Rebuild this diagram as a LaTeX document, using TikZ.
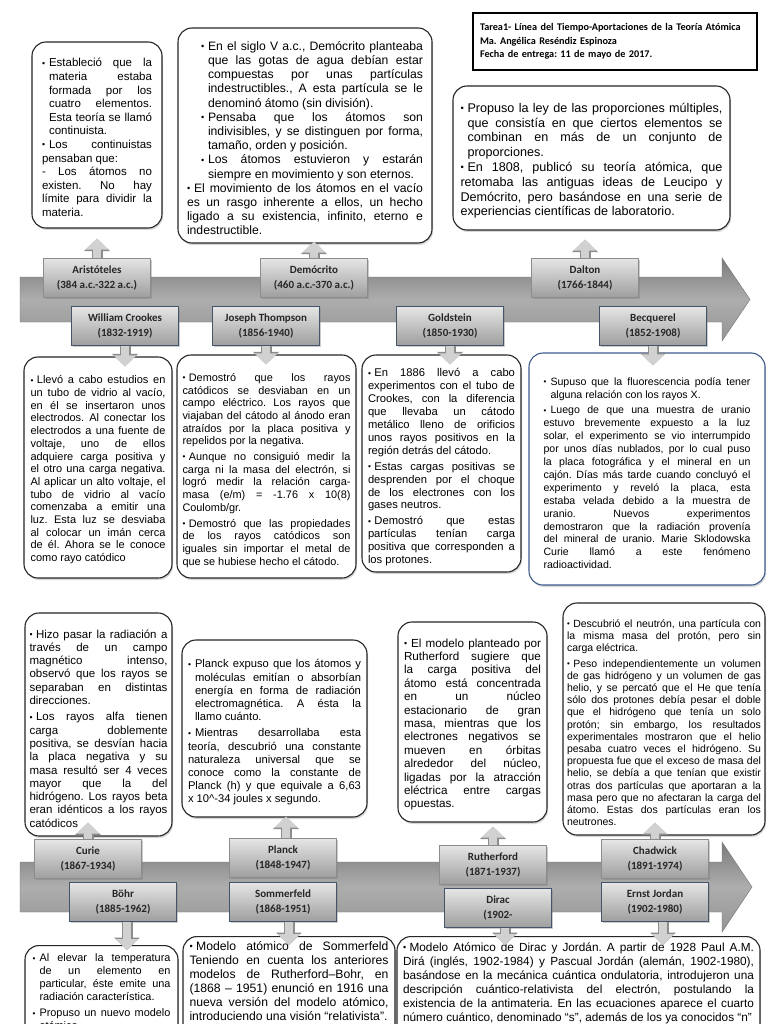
\documentclass[tikz,border=0pt]{standalone}
\usepackage{fontspec}
\setmainfont{Liberation Sans}
\newfontfamily\labfont{Carlito}
\usetikzlibrary{arrows.meta}
\usetikzlibrary{shadows}
\setlength{\parindent}{0pt}
\frenchspacing
\tolerance=10000 \hbadness=10000 \vbadness=10000 \hyphenpenalty=10000
\colorlet{boxline}{black!85}
\definecolor{navyline}{RGB}{68,84,106}
\definecolor{bluebox}{RGB}{62,92,140}
\newcommand{\bul}{\raisebox{0.12ex}{\scalebox{0.75}{\textbullet}}}
\newcommand{\hb}{\par\noindent\hangindent=7pt\hangafter=1\makebox[7pt][l]{\bul}}
\newcommand{\nb}{\par\noindent\bul\hspace{3.5pt}}
\newcommand{\jl}{\linebreak}
\tikzstyle{infobox}=[draw=boxline,line width=1.1pt,rounded corners=14pt,fill=white,inner sep=0pt,drop shadow={opacity=0.3,shadow xshift=1pt,shadow yshift=-2pt}]
\tikzstyle{info}=[infobox,align=justify]
\tikzstyle{head}=[draw=black,line width=1.8pt,fill=white,minimum width=284pt,minimum height=57pt,text width=270pt,inner sep=0pt,align=left,font=\labfont\bfseries\fontsize{10.2}{13.5}\selectfont]
\tikzstyle{lab}=[draw=black!45,top color=black!10,bottom color=black!38,minimum width=107pt,minimum height=39pt,inner sep=0pt,align=center,text=black!85,font=\labfont\bfseries\fontsize{11}{15}\selectfont,drop shadow={opacity=0.4,shadow xshift=1.5pt,shadow yshift=-1.5pt}]
\tikzstyle{labl}=[lab,draw=navyline,line width=1pt]
\tikzstyle{band}=[draw=black!55,top color=black!52,bottom color=black!42,middle color=black!32]
\tikzstyle{blk}=[preaction={draw=black!45,line width=11pt,-{Triangle[width=25pt,length=12.5pt]}},draw=black!18,line width=8.5pt,-{Triangle[width=22pt,length=11pt]}]

\begin{document}
\begin{tikzpicture}[x=1pt,y=-1pt]
  \useasboundingbox (0,0) rectangle (768,1024);
  \fill[white] (0,0) rectangle (768,1024);
  \clip (0,0) rectangle (768,1024);

  % header
  \node[head] (hdr) at (615,41.5) {Tarea1- Línea del Tiempo-Aportaciones de la Teoría Atómica\\Ma. Angélica Reséndiz Espinoza\\Fecha de entrega: 11 de mayo de 2017.};

  % upper boxes of the first line
  \node[info,minimum width=130pt,minimum height=186pt,text width=110pt,font=\fontsize{11.5}{13.6}\selectfont] (arib) at (97,135)
    {\hb Estableció que la\jl materia estaba\jl formada por los\jl cuatro elementos.\jl Esta teoría se llamó\jl continuista.\hb Los continuistas\jl pensaban que:\\- Los átomos no\jl existen. No hay\jl límite para dividir la\jl materia.};
  \node[info,minimum width=254pt,minimum height=215pt,text width=236pt,font=\fontsize{12.2}{14.2}\selectfont] (demb) at (305,135.5)
    {\leftskip=14pt\hb En el siglo V a.c., Demócrito planteaba\jl que las gotas de agua debían estar\jl compuestas por unas partículas\jl indestructibles., A esta partícula se le\jl denominó átomo (sin división).\hb Pensaba que los átomos son\jl indivisibles, y se distinguen por forma,\jl tamaño, orden y posición.\hb Los átomos estuvieron y estarán\jl siempre en movimiento y son eternos.\par\leftskip=0pt\hb El movimiento de los átomos en el vacío\jl es un rasgo inherente a ellos, un hecho\jl ligado a su existencia, infinito, eterno e\jl indestructible.};
  \node[info,minimum width=277pt,minimum height=144pt,text width=262pt,font=\fontsize{12.6}{14.8}\selectfont] (dalb) at (591.5,158)
    {\hb Propuso la ley de las proporciones múltiples,\jl que consistía en que ciertos elementos se\jl combinan en más de un conjunto de\jl proporciones.\hb En 1808, publicó su teoría atómica, que\jl retomaba las antiguas ideas de Leucipo y\jl Demócrito, pero basándose en una serie de\jl experiencias científicas de laboratorio.};

  % lower boxes of the first line
  \node[info,minimum width=148pt,minimum height=221pt,text width=135pt,font=\fontsize{11}{12.7}\selectfont] (crob) at (98,467.5)
    {\nb Llevó a cabo estudios en\jl un tubo de vidrio al vacío,\jl en él se insertaron unos\jl electrodos. Al conectar los\jl electrodos a una fuente de\jl voltaje, uno de ellos\jl adquiere carga positiva y\jl el otro una carga negativa.\jl Al aplicar un alto voltaje, el\jl tubo de vidrio al vacío\jl comenzaba a emitir una\jl luz. Esta luz se desviaba\jl al colocar un imán cerca\jl de él. Ahora se le conoce\jl como rayo catódico};
  \node[info,minimum width=179pt,minimum height=223pt,text width=168pt,font=\fontsize{10.9}{12.7}\selectfont\setlength{\parskip}{3pt}] (thob) at (266.5,466.5)
    {\nb Demostró que los rayos\jl catódicos se desviaban en un\jl campo eléctrico. Los rayos que\jl viajaban del cátodo al ánodo eran\jl atraídos por la placa positiva y\jl repelidos por la negativa.\nb Aunque no consiguió medir la\jl carga ni la masa del electrón, si\jl logró medir la relación carga-\jl masa (e/m) = -1.76 x 10(8)\jl Coulomb/gr.\nb Demostró que las propiedades\jl de los rayos catódicos son\jl iguales sin importar el metal de\jl que se hubiese hecho el cátodo.};
  \node[info,minimum width=159pt,minimum height=217pt,text width=147pt,font=\fontsize{11.2}{12.9}\selectfont\setlength{\parskip}{3pt}] (golb) at (441.5,463.5)
    {\nb En 1886 llevó a cabo\jl experimentos con el tubo de\jl Crookes, con la diferencia\jl que llevaba un cátodo\jl metálico lleno de orificios\jl unos rayos positivos en la\jl región detrás del cátodo.\nb Estas cargas positivas se\jl desprenden por el choque\jl de los electrones con los\jl gases neutros.\nb Demostró que estas\jl partículas tenían carga\jl positiva que corresponden a\jl los protones.};
  \node[info,draw=bluebox,minimum width=236pt,minimum height=232pt,text width=207pt,font=\fontsize{10.6}{12.9}\selectfont\setlength{\parskip}{3pt}] (becb) at (647,469)
    {\hb Supuso que la fluorescencia podía tener\jl alguna relación con los rayos X.\hb Luego de que una muestra de uranio\jl estuvo brevemente expuesto a la luz\jl solar, el experimento se vio interrumpido\jl por unos días nublados, por lo cual puso\jl la placa fotográfica y el mineral en un\jl cajón. Días más tarde cuando concluyó el\jl experimento y reveló la placa, esta\jl estaba velada debido a la muestra de\jl uranio. Nuevos experimentos\jl demostraron que la radiación provenía\jl del mineral de uranio. Marie Sklodowska\jl Curie llamó a este fenómeno\jl radioactividad.};

  % upper boxes of the second line
  \node[info,minimum width=147pt,minimum height=223pt,text width=138pt,font=\fontsize{11.5}{13.3}\selectfont\setlength{\parskip}{3pt}] (curb) at (98.5,724.5)
    {\nb Hizo pasar la radiación a\jl través de un campo\jl magnético intenso,\jl observó que los rayos se\jl separaban en distintas\jl direcciones.\nb Los rayos alfa tienen\jl carga doblemente\jl positiva, se desvían hacia\jl la placa negativa y su\jl masa resultó ser 4 veces\jl mayor que la del\jl hidrógeno. Los rayos beta\jl eran idénticos a los rayos\jl catódicos};
  \node[info,minimum width=185pt,minimum height=177pt,text width=173pt,font=\fontsize{11.2}{13.2}\selectfont\setlength{\parskip}{3pt}] (plab) at (274.5,728.5)
    {\hb Planck expuso que los átomos y\jl moléculas emitían o absorbían\jl energía en forma de radiación\jl electromagnética. A ésta la\jl llamo cuánto.\hb Mientras desarrollaba esta\jl teoría, descubrió una constante\jl naturaleza universal que se\jl conoce como la constante de\jl Planck (h) y que equivale a 6,63\jl x 10\textasciicircum-34 joules x segundo.};
  \node[info,minimum width=149pt,minimum height=200pt,text width=137pt,font=\fontsize{11.7}{13.4}\selectfont] (rutb) at (472.5,722)
    {\hb El modelo planteado por\jl Rutherford sugiere que\jl la carga positiva del\jl átomo está concentrada\jl en un núcleo\jl estacionario de gran\jl masa, mientras que los\jl electrones negativos se\jl mueven en órbitas\jl alrededor del núcleo,\jl ligadas por la atracción\jl eléctrica entre cargas\jl opuestas.};
  \node[info,minimum width=202pt,minimum height=232pt,text width=194pt,font=\fontsize{10.5}{12.2}\selectfont\setlength{\parskip}{3pt}] (chab) at (664,719)
    {\nb Descubrió el neutrón, una partícula con\jl la misma masa del protón, pero sin\jl carga eléctrica.\nb Peso independientemente un volumen\jl de gas hidrógeno y un volumen de gas\jl helio, y se percató que el He que tenía\jl sólo dos protones debía pesar el doble\jl que el hidrógeno que tenía un solo\jl protón; sin embargo, los resultados\jl experimentales mostraron que el helio\jl pesaba cuatro veces el hidrógeno. Su\jl propuesta fue que el exceso de masa del\jl helio, se debía a que tenían que existir\jl otras dos partículas que aportaran a la\jl masa pero que no afectaran la carga del\jl átomo. Estas dos partículas eran los\jl neutrones.};

  % lower boxes of the second line (cut by the page)
  \node[infobox,anchor=north,minimum width=153pt,inner ysep=8.5pt] (bohb) at (101.5,945)
    {\parbox[t][130pt][t]{138pt}{\fontsize{10.9}{13}\selectfont\setlength{\parskip}{3pt}\hb Al elevar la temperatura\jl de un elemento en\jl particular, éste emite una\jl radiación característica.\hb Propuso un nuevo modelo\jl atómico}};
  \node[infobox,anchor=north,minimum width=212pt,inner ysep=5pt] (somb) at (289,936)
    {\parbox[t][130pt][t]{199pt}{\fontsize{12.2}{14}\selectfont\nb Modelo atómico de Sommerfeld\jl Teniendo en cuenta los anteriores\jl modelos de Rutherford–Bohr, en\jl (1868 – 1951) enunció en 1916 una\jl nueva versión del modelo atómico,\jl introduciendo una visión “relativista”.}};
  \node[infobox,anchor=north,minimum width=363pt,inner ysep=6pt] (dirb) at (578.5,936)
    {\parbox[t][130pt][t]{351pt}{\fontsize{11.8}{14}\selectfont\nb Modelo Atómico de Dirac y Jordán. A partir de 1928 Paul A.M.\jl Dirá (inglés, 1902-1984) y Pascual Jordán (alemán, 1902-1980),\jl basándose en la mecánica cuántica ondulatoria, introdujeron una\jl descripción cuántico-relativista del electrón, postulando la\jl existencia de la antimateria. En las ecuaciones aparece el cuarto\jl número cuántico, denominado “s”, además de los ya conocidos “n”}};

  % the two time bands
  \draw[band] (20,277) -- (722,277) -- (722,258) -- (750,299.5) -- (722,341) -- (722,322) -- (20,322) -- cycle;
  \draw[band] (20,862) -- (722,862) -- (722,842) -- (752,887) -- (722,932) -- (722,912) -- (20,912) -- cycle;

  % names and dates
  \node[lab] (ari) at (97,277.5) {Aristóteles\\(384 a.c.-322 a.c.)};
  \node[lab] (dem) at (314,278) {Demócrito\\(460 a.c.-370 a.c.)};
  \node[lab] (dal) at (585,278) {Dalton\\(1766-1844)};
  \node[labl] (cro) at (125,326) {William Crookes\\(1832-1919)};
  \node[labl] (tho) at (266,326) {Joseph Thompson\\(1856-1940)};
  \node[labl] (gol) at (450,326) {Goldstein\\(1850-1930)};
  \node[labl] (bec) at (653,326) {Becquerel\\(1852-1908)};
  \node[lab] (cur) at (88,859) {Curie\\(1867-1934)};
  \node[lab] (pla) at (283,858) {Planck\\(1848-1947)};
  \node[lab] (rut) at (493,865) {Rutherford\\(1871-1937)};
  \node[lab] (cha) at (655,859) {Chadwick\\(1891-1974)};
  \node[labl] (boh) at (123,902) {Böhr\\(1885-1962)};
  \node[labl] (som) at (283,902) {Sommerfeld\\(1868-1951)};
  \node[labl] (dir) at (498,908) {Dirac\\(1902-};
  \node[labl] (jor) at (655,902) {Ernst Jordan\\(1902-1980)};

  % block arrows
  \draw[blk,shorten >=10pt] (ari.north) -- (ari.north |- arib.south);
  \draw[blk,shorten >=-2pt] (dem.north) -- (dem.north |- demb.south);
  \draw[blk,shorten >=9pt] (dal.north) -- (dal.north |- dalb.south);
  \draw[blk,shorten >=-10pt] (cro.south) -- (cro.south |- crob.north);
  \draw[blk,shorten >=-10pt] (tho.south) -- (tho.south |- thob.north);
  \draw[blk,shorten >=-10pt] (gol.south) -- (gol.south |- golb.north);
  \draw[blk,shorten >=-13pt] (bec.south) -- (bec.south |- becb.north);
  \draw[blk,shorten >=-14pt] (cur.north) -- (cur.north |- curb.south);
  \draw[blk,shorten >=-1pt] ([xshift=3pt]pla.north) -- ([xshift=3pt]pla.north |- plab.south);
  \draw[blk,shorten >=4pt] (rut.north) -- (rut.north |- rutb.south);
  \draw[blk,shorten >=-13pt] (cha.north) -- (cha.north |- chab.south);
  \draw[blk,shorten >=-5pt] ([xshift=4pt]boh.south) -- ([xshift=4pt]boh.south |- bohb.north);
  \draw[blk,shorten >=-9pt] ([xshift=6pt]som.south) -- ([xshift=6pt]som.south |- somb.north);
  \draw[blk,shorten >=-9pt] ([xshift=7pt]dir.south) -- ([xshift=7pt]dir.south |- dirb.north);
  \draw[blk,shorten >=-9pt] ([xshift=8pt]jor.south) -- ([xshift=8pt]jor.south |- dirb.north);
\end{tikzpicture}
\end{document}
